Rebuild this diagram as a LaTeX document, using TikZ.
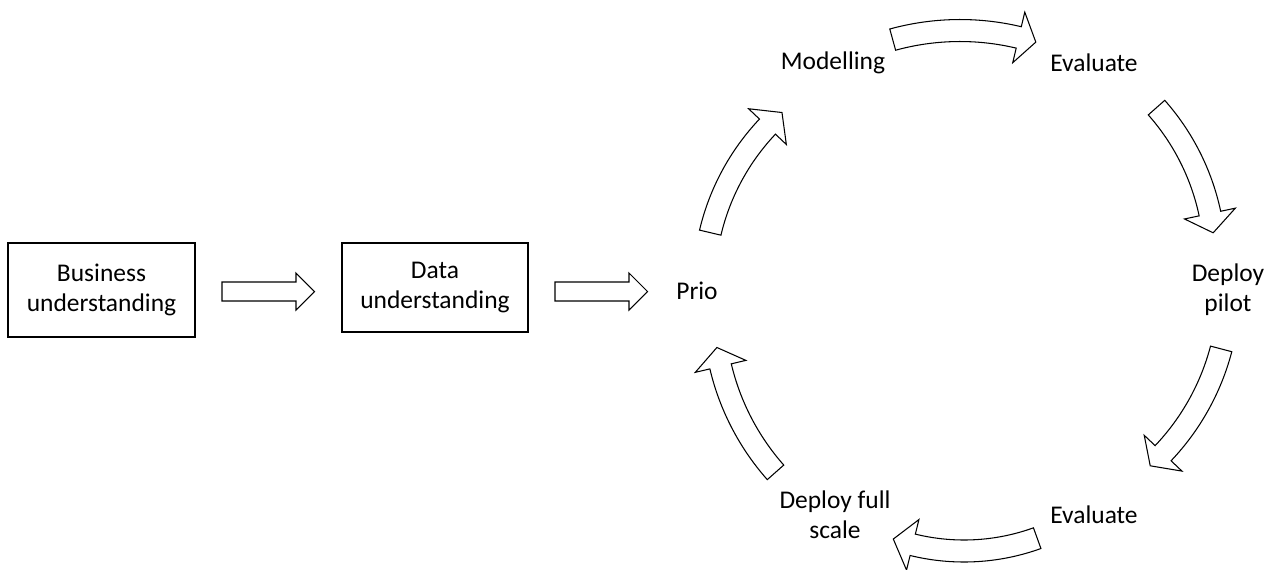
\documentclass[tikz,border=0pt]{standalone}
\usepackage{fontspec}
\setmainfont{Carlito}
\usepackage{tikz}
\usetikzlibrary{calc,positioning}

\tikzset{blockline/.style={draw=black,line width=0.6pt,fill=white,line join=miter}}

% curved block arrow: centre, radius, tail angle, head angle, tip angle
\newcommand{\cycarrow}[5]{%
	\draw[blockline,shift={(#1)}] (#3:#2+11) arc[start angle=#3,end angle=#4,radius=#2+11]
	-- (#4:#2+26) -- (#5:#2) -- (#4:#2-26) -- (#4:#2-11)
	arc[start angle=#4,end angle=#3,radius=#2-11] -- cycle;}
% straight block arrow starting at a coordinate
\newcommand{\flatarrow}[1]{%
	\draw[blockline] (#1) ++(0,-9.5) -- ++(74,0) -- ++(0,-9) -- ++(18.5,18.5)
	-- ++(-18.5,18.5) -- ++(0,-9) -- ++(-74,0) -- cycle;}

\begin{document}
\begin{tikzpicture}[x=0.02cm,y=0.02cm,yscale=-1,
	every node/.style={font=\fontsize{14.5}{17}\selectfont,align=center}]
	\useasboundingbox (0,0) rectangle (1270,569);

	\begin{scope}[every node/.style={draw,line width=0.8pt,align=center,
			font=\fontsize{14.5}{17}\selectfont}]
		\node[minimum width=3.74cm,minimum height=1.88cm] (B) at (101.5,290) {Business\\understanding};
		\node[minimum width=3.72cm,minimum height=1.78cm] (D) at (435,287.5) {Data\\understanding};
	\end{scope}

	\node (P) at (697,291) {Prio};
	\node (M) at (833,63) {Modelling};
	\node (E1) at (1094,63) {Evaluate};
	\node (DP) at (1228,290) {Deploy\\pilot};
	\node (E2) at (1094,515) {Evaluate};
	\node (DF) at (835,515) {Deploy full\\scale};

	\coordinate (a1) at (222,291.5);
	\coordinate (a2) at (555,291.5);
	\flatarrow{a1}
	\flatarrow{a2}

	\cycarrow{936,286}{232}{193.3}{223.4}{228.4}
	\cycarrow{960,284}{253.5}{254.6}{283.4}{287.4}
	\cycarrow{982,262}{233}{318.5}{348}{352.8}
	\cycarrow{989,288}{240}{14.7}{43.5}{47.8}
	\cycarrow{964,336}{215}{70.1}{103.8}{109.2}
	\cycarrow{959,310}{245}{138.5}{166.7}{171.2}
\end{tikzpicture}
\end{document}
